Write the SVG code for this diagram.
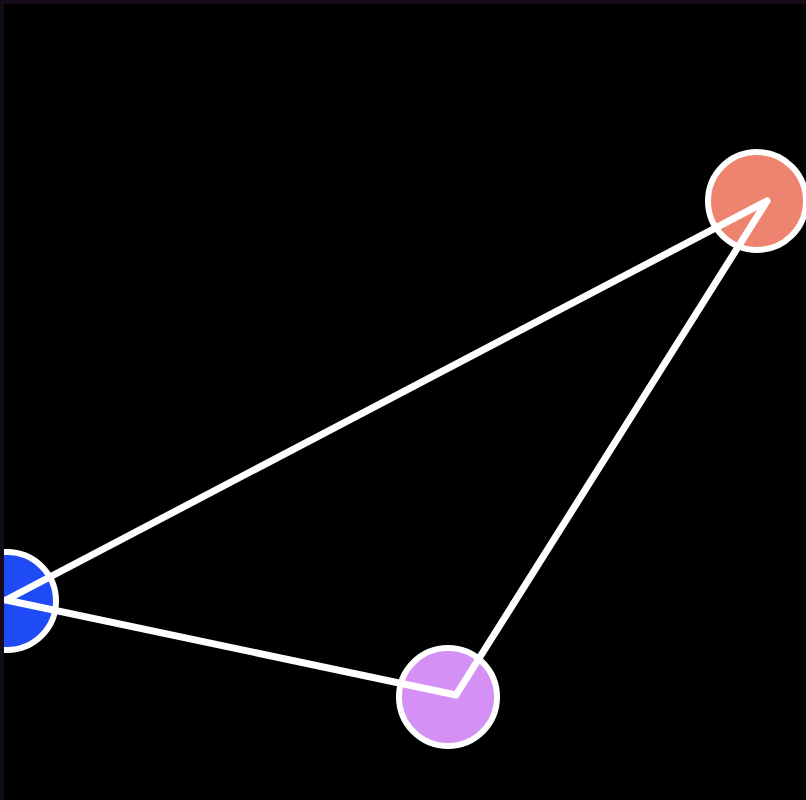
<svg xmlns="http://www.w3.org/2000/svg" width="806" height="800" viewBox="0 0 806 800">
<style>.n{stroke:#fff;stroke-width:6}.e{stroke:#fff;stroke-width:7;stroke-linecap:round;stroke-linejoin:round;fill:none}</style>
<defs><clipPath id="c"><rect x="4" y="4" width="802" height="796"/></clipPath></defs>
<rect width="806" height="800" fill="#150b18"/>
<rect x="4" y="4" width="802" height="796" fill="#000"/>
<g clip-path="url(#c)">
<g id="node-a"><circle class="n" cx="7" cy="601" r="49" fill="#1e4bf5"/></g>
<g id="node-b"><circle class="n" cx="757" cy="201" r="49" fill="#ee8470"/></g>
<g id="node-c"><circle class="n" cx="448" cy="697" r="49" fill="#d490f5"/></g>
<g id="edges"><path class="e" d="M6 600 L767 201 M767 201 L456 695 M456 695 L6 600"/></g>
</g>
</svg>
